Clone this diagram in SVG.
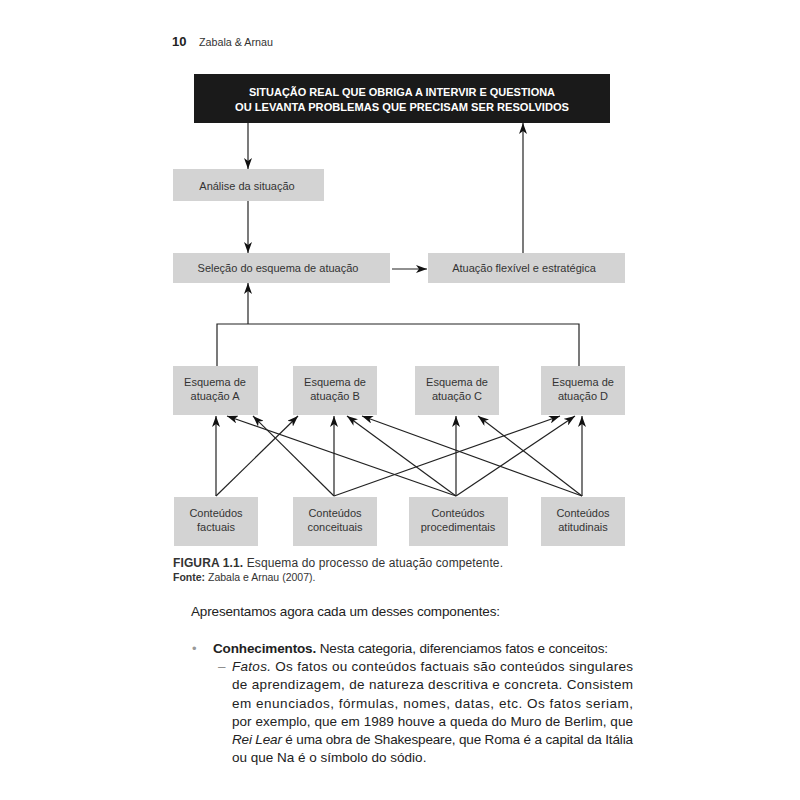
<svg xmlns="http://www.w3.org/2000/svg" width="800" height="800" viewBox="0 0 800 800">
<defs>
<style>
text{font-family:"Liberation Sans",Arial,Helvetica,sans-serif;fill:#2a2a2a}
.box{fill:#d3d3d3}
.lbl{font-size:11px;text-anchor:middle;fill:#333}
.hd{font-size:11px;font-weight:bold;fill:#fff;text-anchor:middle}
.ln{stroke:#222;stroke-width:1.2;fill:none}
.body{font-size:13.5px;fill:#222}
</style>
<marker id="ah" markerUnits="userSpaceOnUse" markerWidth="12" markerHeight="8" refX="11" refY="4" orient="auto">
<path d="M0,0 L11,4 L0,8 L3,4 Z" fill="#111"/>
</marker>
</defs>
<rect width="800" height="800" fill="#fff"/>
<text x="172" y="46" style="font-size:13px;font-weight:bold;fill:#222">10</text>
<text x="199" y="46" style="font-size:11.5px;fill:#333" textLength="74" lengthAdjust="spacingAndGlyphs">Zabala &amp; Arnau</text>

<g id="situacao">
<rect x="194" y="74" width="416" height="49" fill="#1a1a1a"/>
<text class="hd" x="402" y="96" textLength="306" lengthAdjust="spacingAndGlyphs">SITUAÇÃO REAL QUE OBRIGA A INTERVIR E QUESTIONA</text>
<text class="hd" x="402" y="111" textLength="334" lengthAdjust="spacingAndGlyphs">OU LEVANTA PROBLEMAS QUE PRECISAM SER RESOLVIDOS</text>
</g>
<g id="analise">
<rect class="box" x="173" y="169" width="151" height="32"/>
<text class="lbl" x="247" y="190">Análise da situação</text>
</g>
<g id="selecao">
<rect class="box" x="173" y="253" width="217" height="30"/>
<text class="lbl" x="278" y="272">Seleção do esquema de atuação</text>
</g>
<g id="atuacao">
<rect class="box" x="428" y="253" width="197" height="30"/>
<text class="lbl" x="524" y="272">Atuação flexível e estratégica</text>
</g>
<g id="esqA">
<rect class="box" x="173" y="366" width="85" height="49"/>
<text class="lbl" x="215" y="386">Esquema de</text><text class="lbl" x="215" y="400">atuação A</text>
</g>
<g id="esqB">
<rect class="box" x="293" y="366" width="84" height="49"/>
<text class="lbl" x="335" y="386">Esquema de</text><text class="lbl" x="335" y="400">atuação B</text>
</g>
<g id="esqC">
<rect class="box" x="415" y="366" width="84" height="49"/>
<text class="lbl" x="457" y="386">Esquema de</text><text class="lbl" x="457" y="400">atuação C</text>
</g>
<g id="esqD">
<rect class="box" x="541" y="366" width="84" height="49"/>
<text class="lbl" x="583" y="386">Esquema de</text><text class="lbl" x="583" y="400">atuação D</text>
</g>
<g id="factuais">
<rect class="box" x="174" y="497" width="84" height="49"/>
<text class="lbl" x="216" y="517">Conteúdos</text><text class="lbl" x="216" y="531">factuais</text>
</g>
<g id="conceituais">
<rect class="box" x="293" y="497" width="84" height="49"/>
<text class="lbl" x="335" y="517">Conteúdos</text><text class="lbl" x="335" y="531">conceituais</text>
</g>
<g id="procedimentais">
<rect class="box" x="409" y="497" width="99" height="49"/>
<text class="lbl" x="458" y="517">Conteúdos</text><text class="lbl" x="458" y="531">procedimentais</text>
</g>
<g id="atitudinais">
<rect class="box" x="541" y="497" width="84" height="49"/>
<text class="lbl" x="583" y="517">Conteúdos</text><text class="lbl" x="583" y="531">atitudinais</text>
</g>

<g id="connectors">
<line class="ln" x1="248" y1="123" x2="248" y2="169" marker-end="url(#ah)"/>
<line class="ln" x1="248" y1="201" x2="248" y2="253" marker-end="url(#ah)"/>
<line class="ln" x1="392" y1="269" x2="427" y2="269" marker-end="url(#ah)"/>
<line class="ln" x1="523" y1="253" x2="523" y2="123" marker-end="url(#ah)"/>
<path class="ln" d="M217,366 V324 H579 V366"/>
<line class="ln" x1="248" y1="324" x2="248" y2="283" marker-end="url(#ah)"/>
<line class="ln" x1="216" y1="496" x2="216" y2="416" marker-end="url(#ah)"/>
<line class="ln" x1="216" y1="496" x2="298" y2="416" marker-end="url(#ah)"/>
<line class="ln" x1="334" y1="496" x2="334" y2="416" marker-end="url(#ah)"/>
<line class="ln" x1="334" y1="496" x2="253" y2="416" marker-end="url(#ah)"/>
<line class="ln" x1="334" y1="496" x2="560" y2="416" marker-end="url(#ah)"/>
<line class="ln" x1="456" y1="496" x2="456" y2="416" marker-end="url(#ah)"/>
<line class="ln" x1="456" y1="496" x2="227" y2="416" marker-end="url(#ah)"/>
<line class="ln" x1="456" y1="496" x2="347" y2="416" marker-end="url(#ah)"/>
<line class="ln" x1="456" y1="496" x2="575" y2="416" marker-end="url(#ah)"/>
<line class="ln" x1="582" y1="496" x2="582" y2="416" marker-end="url(#ah)"/>
<line class="ln" x1="582" y1="496" x2="362" y2="416" marker-end="url(#ah)"/>
<line class="ln" x1="582" y1="496" x2="478" y2="416" marker-end="url(#ah)"/>
</g>

<text x="173" y="567" style="font-size:12px;fill:#333" textLength="330"><tspan font-weight="bold">FIGURA 1.1.</tspan> Esquema do processo de atuação competente.</text>
<text x="173" y="581" style="font-size:10.5px;fill:#333"><tspan font-weight="bold">Fonte:</tspan> Zabala e Arnau (2007).</text>

<text class="body" x="191" y="616" textLength="309">Apresentamos agora cada um desses componentes:</text>
<text x="192" y="653" style="font-size:13px;fill:#999">•</text>
<text class="body" x="213" y="653" textLength="395"><tspan font-weight="bold">Conhecimentos.</tspan> Nesta categoria, diferenciamos fatos e conceitos:</text>
<text x="218" y="671" style="font-size:13.5px;fill:#888">–</text>
<text class="body" x="232" y="671" textLength="401"><tspan font-style="italic">Fatos.</tspan> Os fatos ou conteúdos factuais são conteúdos singulares</text>
<text class="body" x="232" y="689" textLength="401">de aprendizagem, de natureza descritiva e concreta. Consistem</text>
<text class="body" x="232" y="707.5" textLength="401">em enunciados, fórmulas, nomes, datas, etc. Os fatos seriam,</text>
<text class="body" x="232" y="725.5" textLength="401">por exemplo, que em 1989 houve a queda do Muro de Berlim, que</text>
<text class="body" x="232" y="744" textLength="401"><tspan font-style="italic">Rei Lear</tspan> é uma obra de Shakespeare, que Roma é a capital da Itália</text>
<text class="body" x="232" y="762">ou que Na é o símbolo do sódio.</text>
</svg>
